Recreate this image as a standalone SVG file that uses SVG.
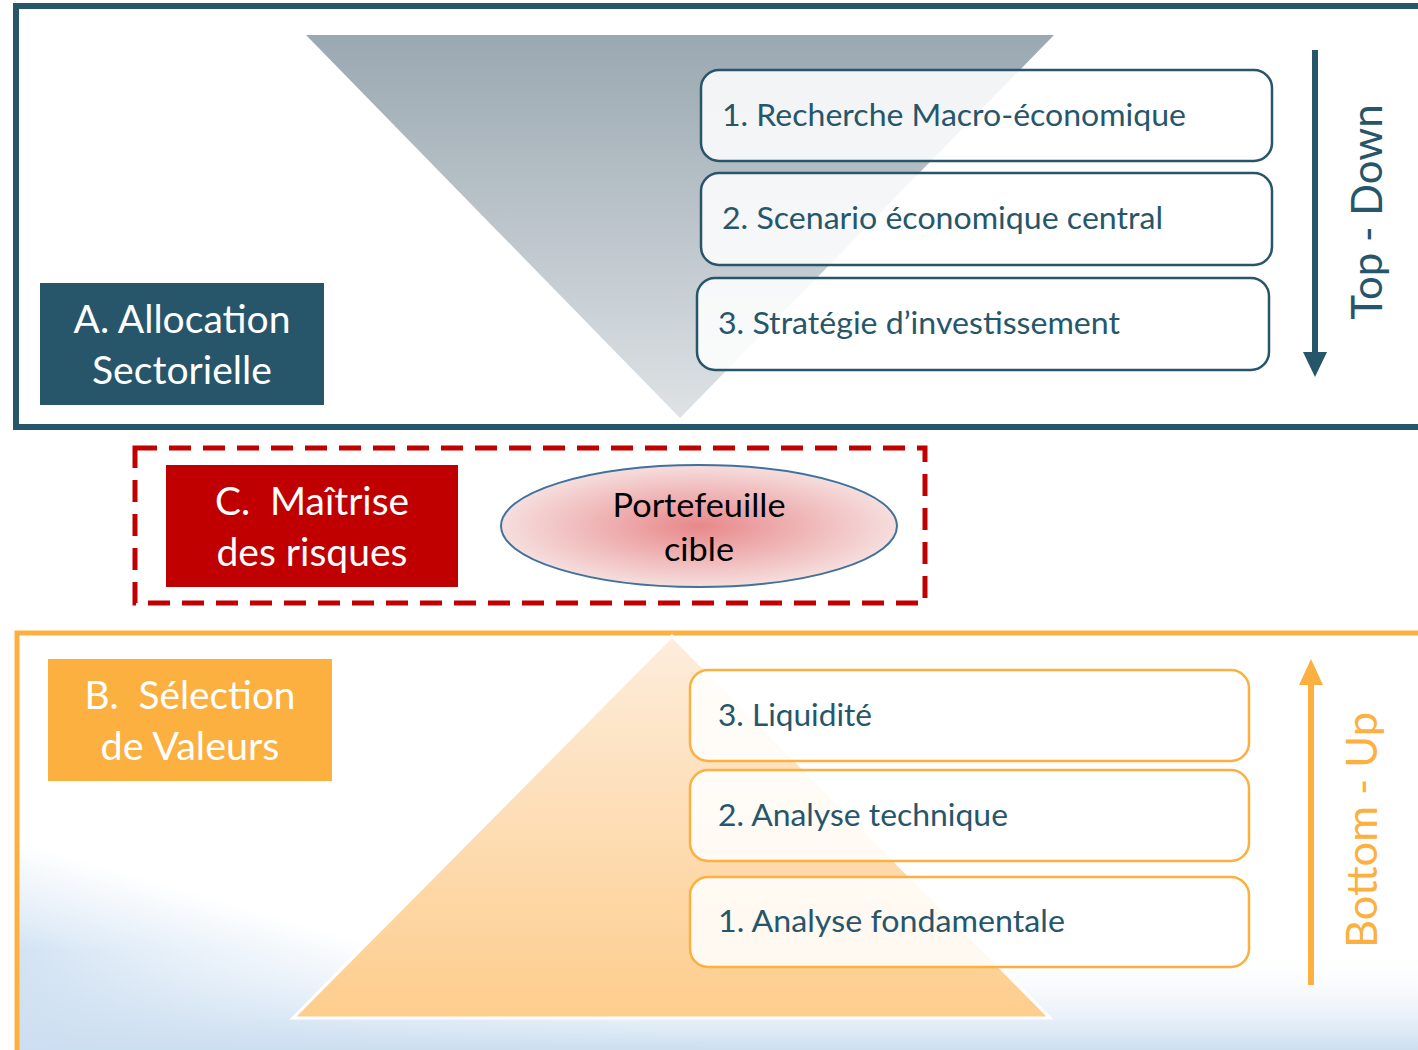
<svg xmlns="http://www.w3.org/2000/svg" width="1418" height="1050" viewBox="0 0 1418 1050">
<defs>
<style>
.t{font-family:Lato,"Liberation Sans",sans-serif;white-space:pre;}
.wh{fill:#FFFFFF;font-size:38px;text-anchor:middle;}
.step{fill:#27566B;font-size:30px;}
.tbox{fill:#FFFFFF;fill-opacity:0.86;stroke:#27566B;stroke-width:2.5;}
.bbox{fill:#FFFFFF;fill-opacity:0.86;stroke:#FBB040;stroke-width:2.5;}
</style>
<linearGradient id="gInv" x1="0" y1="0" x2="0" y2="1">
<stop offset="0" stop-color="#9AA8B1"/>
<stop offset="1" stop-color="#DEE2E5"/>
</linearGradient>
<linearGradient id="gPyr" x1="0" y1="0" x2="0" y2="1">
<stop offset="0" stop-color="#FDEDDC"/>
<stop offset="1" stop-color="#FDCD8C"/>
</linearGradient>
<radialGradient id="gEll" cx="0.5" cy="0.5" r="0.5">
<stop offset="0" stop-color="#E8888A"/>
<stop offset="1" stop-color="#F6DEDE"/>
</radialGradient>
<linearGradient id="gSky" gradientUnits="userSpaceOnUse" x1="0" y1="835" x2="-60" y2="1040">
<stop offset="0" stop-color="#FFFFFF"/>
<stop offset="0.35" stop-color="#E2EDF8"/>
<stop offset="1" stop-color="#9CC0E3"/>
</linearGradient>
<linearGradient id="gSky2" gradientUnits="userSpaceOnUse" x1="0" y1="950" x2="0" y2="1050">
<stop offset="0" stop-color="#FFFFFF" stop-opacity="0"/>
<stop offset="1" stop-color="#CCDEF1"/>
</linearGradient>
</defs>
<rect x="0" y="0" width="1418" height="1050" fill="#FFFFFF"/>

<!-- Top section -->
<g id="top-frame">
<rect x="16" y="6" width="1420" height="421" fill="#FFFFFF" stroke="#27566B" stroke-width="6"/>
<polygon points="306,35 1054,35 680,418" fill="url(#gInv)"/>
</g>
<g id="node-A">
<rect x="40" y="283" width="284" height="122" fill="#27566B"/>
<text class="t wh" x="182" y="333" textLength="217" lengthAdjust="spacingAndGlyphs">A. Allocation</text>
<text class="t wh" x="182" y="384" textLength="180" lengthAdjust="spacingAndGlyphs">Sectorielle</text>
</g>
<g id="node-top1">
<rect class="tbox" x="701" y="70" width="571" height="91" rx="18"/>
<text class="t step" x="722" y="126" textLength="464" lengthAdjust="spacingAndGlyphs">1. Recherche Macro-économique</text>
</g>
<g id="node-top2">
<rect class="tbox" x="701" y="173" width="571" height="92" rx="18"/>
<text class="t step" x="722" y="229" textLength="441" lengthAdjust="spacingAndGlyphs">2. Scenario économique central</text>
</g>
<g id="node-top3">
<rect class="tbox" x="697" y="278" width="572" height="92" rx="18"/>
<text class="t step" x="718" y="334" textLength="402" lengthAdjust="spacingAndGlyphs">3. Stratégie d’investissement</text>
</g>
<g id="label-topdown">
<text class="t" x="0" y="0" transform="translate(1382,212) rotate(-90)" text-anchor="middle" font-size="42" fill="#27566B" textLength="215" lengthAdjust="spacingAndGlyphs">Top - Down</text>
</g>

<!-- Middle section -->
<g id="node-risk-frame">
<rect x="135" y="448" width="790" height="155" fill="none" stroke="#C00000" stroke-width="5" stroke-dasharray="22,12"/>
</g>
<g id="node-C">
<rect x="166" y="465" width="292" height="122" fill="#C00000"/>
<text class="t wh" x="312" y="515" textLength="194" lengthAdjust="spacingAndGlyphs">C.  Maîtrise</text>
<text class="t wh" x="312" y="566" textLength="191" lengthAdjust="spacingAndGlyphs">des risques</text>
</g>
<g id="node-portefeuille">
<ellipse cx="699" cy="526" rx="198" ry="61" fill="url(#gEll)" stroke="#41719C" stroke-width="2"/>
<text class="t" x="699" y="517" text-anchor="middle" font-size="32" fill="#000000" textLength="173" lengthAdjust="spacingAndGlyphs">Portefeuille</text>
<text class="t" x="699" y="561" text-anchor="middle" font-size="32" fill="#000000" textLength="70" lengthAdjust="spacingAndGlyphs">cible</text>
</g>

<!-- Bottom section -->
<g id="bottom-frame">
<rect x="17" y="633" width="1420" height="440" fill="url(#gSky)"/>
<rect x="17" y="633" width="1420" height="440" fill="url(#gSky2)"/>
<rect x="17" y="633" width="1420" height="440" fill="none" stroke="#FBB040" stroke-width="5"/>
<polygon points="672,636 1050,1018 293,1018" fill="url(#gPyr)" stroke="#FFFFFF" stroke-width="3"/>
</g>
<g id="node-B">
<rect x="48" y="659" width="284" height="122" fill="#FBB040"/>
<text class="t wh" x="190" y="709" textLength="211" lengthAdjust="spacingAndGlyphs">B.  Sélection</text>
<text class="t wh" x="190" y="760" textLength="179" lengthAdjust="spacingAndGlyphs">de Valeurs</text>
</g>
<g id="node-bot3">
<rect class="bbox" x="690" y="670" width="559" height="91" rx="18"/>
<text class="t step" x="718" y="726" textLength="154" lengthAdjust="spacingAndGlyphs">3. Liquidité</text>
</g>
<g id="node-bot2">
<rect class="bbox" x="690" y="770" width="559" height="91" rx="18"/>
<text class="t step" x="718" y="826" textLength="290" lengthAdjust="spacingAndGlyphs">2. Analyse technique</text>
</g>
<g id="node-bot1">
<rect class="bbox" x="690" y="877" width="559" height="90" rx="18"/>
<text class="t step" x="718" y="932" textLength="347" lengthAdjust="spacingAndGlyphs">1. Analyse fondamentale</text>
</g>
<g id="label-bottomup">
<text class="t" x="0" y="0" transform="translate(1377,830) rotate(-90)" text-anchor="middle" font-size="42" fill="#FBB040" textLength="236" lengthAdjust="spacingAndGlyphs">Bottom - Up</text>
</g>

<g id="connectors">
<line x1="1315" y1="50" x2="1315" y2="354" stroke="#27566B" stroke-width="6"/>
<polygon points="1303,352 1327,352 1315,377" fill="#27566B"/>
<line x1="1311" y1="985" x2="1311" y2="683" stroke="#FBB040" stroke-width="6"/>
<polygon points="1299,685 1323,685 1311,659" fill="#FBB040"/>
</g>
</svg>
